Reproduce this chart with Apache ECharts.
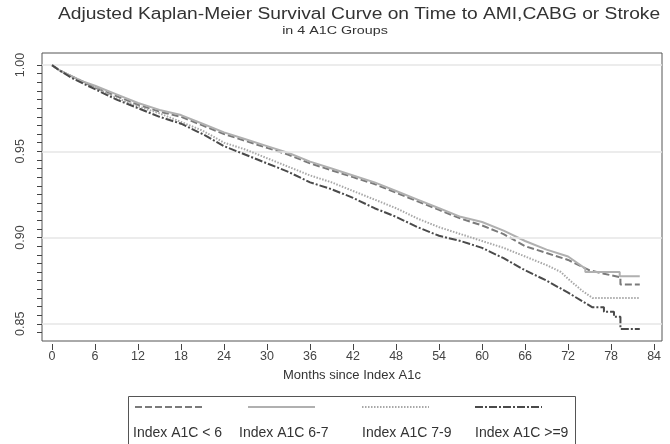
<!DOCTYPE html>
<html>
<head>
<meta charset="utf-8">
<script src="https://cdn.jsdelivr.net/npm/echarts@6/dist/echarts.min.js"></script>
<style>html,body{margin:0;padding:0;background:#fff}#c{width:670px;height:444px}</style>
</head>
<body>
<div id="c"></div>
<script>
// ---- data ----
const titleText = 'Adjusted Kaplan-Meier Survival Curve on Time to AMI,CABG or Stroke';
const subtitleText = 'in 4 A1C Groups';
const xAxisTitle = 'Months since Index A1c';
const groupNames = ['Index A1C < 6', 'Index A1C 6-7', 'Index A1C 7-9', 'Index A1C >=9'];

const xTicks = [0, 6, 12, 18, 24, 30, 36, 42, 48, 54, 60, 66, 72, 78, 84];
const yLabels = [0.85, 0.90, 0.95, 1.00];
const yTicks = [0.845, 0.85, 0.855, 0.86, 0.865, 0.87, 0.875, 0.88, 0.885, 0.89, 0.895,
  0.90, 0.905, 0.91, 0.915, 0.92, 0.925, 0.93, 0.935, 0.94, 0.945,
  0.95, 0.955, 0.96, 0.965, 0.97, 0.975, 0.98, 0.985, 0.99, 0.995, 1.00];
const gridLines = [0.85, 0.90, 0.95, 1.00];

// A1C < 6 (dashed)
const lt6Months = [0, 1, 3, 6, 9, 12, 15, 18, 21, 24, 27, 30, 33, 36, 39, 42, 45, 48, 51, 54, 57, 60, 63, 66, 69, 72, 75, 77, 79.3, 79.3, 82];
const lt6Values = [1.000, 0.997, 0.993, 0.987, 0.982, 0.977, 0.973, 0.970, 0.965, 0.960, 0.956, 0.952, 0.948, 0.943, 0.939, 0.935, 0.931, 0.926, 0.921, 0.916, 0.911, 0.907, 0.902, 0.895, 0.891, 0.887, 0.881, 0.879, 0.877, 0.8728, 0.8728];
// A1C 6-7 (solid)
const a67Months = [0, 1, 2, 3, 4, 6, 9, 12, 15, 18, 21, 24, 27, 30, 33, 36, 39, 42, 45, 48, 51, 54, 57, 60, 63, 66, 69, 72, 74.4, 74.4, 79.2, 79.2, 82];
const a67Values = [1.000, 0.997, 0.995, 0.993, 0.991, 0.988, 0.983, 0.978, 0.974, 0.971, 0.966, 0.961, 0.957, 0.953, 0.949, 0.944, 0.940, 0.936, 0.932, 0.927, 0.922, 0.917, 0.912, 0.909, 0.904, 0.898, 0.893, 0.889, 0.882, 0.880, 0.880, 0.8775, 0.8775];
// A1C 7-9 (dotted)
const a79Months = [0, 1, 3, 6, 9, 12, 15, 18, 21, 24, 27, 30, 33, 36, 39, 42, 45, 48, 51, 54, 57, 60, 63, 66, 69, 71, 72, 74, 75.4, 82];
const a79Values = [1.000, 0.997, 0.993, 0.987, 0.981, 0.976, 0.972, 0.967, 0.962, 0.955, 0.951, 0.946, 0.941, 0.936, 0.932, 0.927, 0.922, 0.917, 0.911, 0.906, 0.902, 0.898, 0.894, 0.889, 0.884, 0.880, 0.876, 0.869, 0.865, 0.865];
// A1C >= 9 (dash-dot)
const ge9Months = [0, 1, 3, 6, 9, 12, 15, 18, 21, 24, 27, 30, 33, 36, 39, 42, 45, 48, 51, 54, 57, 60, 63, 66, 69, 72, 74, 75.4, 77, 77, 78.4, 78.4, 79.3, 79.3, 82];
const ge9Values = [1.000, 0.997, 0.992, 0.986, 0.980, 0.975, 0.970, 0.966, 0.960, 0.953, 0.948, 0.943, 0.938, 0.932, 0.928, 0.923, 0.917, 0.912, 0.906, 0.901, 0.898, 0.894, 0.888, 0.881, 0.875, 0.868, 0.863, 0.8595, 0.8595, 0.857, 0.857, 0.854, 0.854, 0.847, 0.847];

// ---- styles ----
const FONT = '"Liberation Sans", Arial, sans-serif';
const styles = [
  { color: '#7a7a7a', type: [7, 3], width: 2 },
  { color: '#b0b0b0', type: 'solid', width: 2 },
  { color: '#a8a8a8', type: [1.5, 1.5], width: 2 },
  { color: '#4a4a4a', type: [8, 2, 2, 2], width: 2 }
];
const monthSets = [lt6Months, a67Months, a79Months, ge9Months];
const valueSets = [lt6Values, a67Values, a79Values, ge9Values];

const series = monthSets.map((ms, i) => ({
  name: groupNames[i],
  type: 'line',
  showSymbol: false,
  symbol: 'none',
  z: 3 + i,
  lineStyle: { color: styles[i].color, type: styles[i].type, width: styles[i].width },
  data: ms.map((m, j) => [m, valueSets[i][j]])
}));
series.push({
  type: 'line', data: [], z: 1, silent: true,
  markLine: {
    silent: true, symbol: 'none', label: { show: false },
    lineStyle: { color: '#e6e6e6', type: 'solid', width: 1.5 },
    data: gridLines.map(v => ({ yAxis: v }))
  }
});

// titles as text elements (horizontally stretched like the reference)
const graphics = [
  { type: 'text', x: 359, y: 15, scaleX: 1.2, originX: 0, originY: 0,
    style: { text: titleText, fill: '#333', font: '16px ' + FONT, textAlign: 'center', textVerticalAlign: 'middle' } },
  { type: 'text', x: 335, y: 31, scaleX: 1.3, originX: 0, originY: 0,
    style: { text: subtitleText, fill: '#333', font: '11px ' + FONT, textAlign: 'center', textVerticalAlign: 'middle' } }
];

// legend drawn as graphic (text below line sample)
const legendX = [135, 248, 362, 475];
const legendTextX = [133, 239, 362, 475];
graphics.push({ type: 'rect', shape: { x: 128.5, y: 396.5, width: 447, height: 70 }, style: { fill: 'none', stroke: '#555', lineWidth: 1 } });
groupNames.forEach((n, i) => {
  graphics.push({
    type: 'line', shape: { x1: legendX[i], y1: 407, x2: legendX[i] + 67, y2: 407 },
    style: { stroke: styles[i].color, lineWidth: 2, lineDash: styles[i].type === 'solid' ? null : styles[i].type }
  });
  graphics.push({
    type: 'text', x: legendTextX[i], y: 433,
    style: { text: n, fill: '#333', font: '14px ' + FONT, textVerticalAlign: 'middle' }
  });
});

const chart = echarts.init(document.getElementById('c'), null, { renderer: 'canvas' });
chart.setOption({
  animation: false,
  backgroundColor: '#fff',
  grid: { left: 42, top: 53, right: 8, bottom: 103, show: true, borderColor: '#555', borderWidth: 1, containLabel: false },
  xAxis: {
    type: 'value', min: -1.4, max: 85.1, offset: 3,
    axisLine: { show: false, onZero: false },
    axisTick: { show: true, inside: false, length: 6, customValues: xTicks, lineStyle: { color: '#444' } },
    axisLabel: { customValues: xTicks, margin: 6, fontSize: 12.5, color: '#444', fontFamily: FONT },
    splitLine: { show: false },
    name: xAxisTitle, nameLocation: 'middle', nameGap: 25,
    nameTextStyle: { fontSize: 13, color: '#333', fontFamily: FONT }
  },
  yAxis: {
    type: 'value', min: 0.84, max: 1.007, position: 'left',
    axisLine: { show: false, onZero: false },
    axisTick: { show: true, inside: false, length: 5, customValues: yTicks, lineStyle: { color: '#444' } },
    axisLabel: { customValues: yLabels, rotate: 90, margin: 15, fontSize: 12.5, color: '#444',
      fontFamily: FONT, formatter: v => v.toFixed(2) },
    splitLine: { show: false }
  },
  graphic: graphics,
  series: series
});
</script>
</body>
</html>
